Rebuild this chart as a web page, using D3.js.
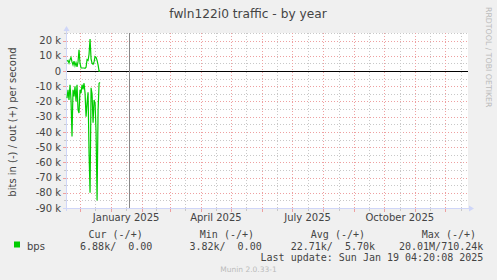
<!DOCTYPE html>
<html>
<head>
<meta charset="utf-8">
<script src="https://cdn.jsdelivr.net/npm/d3@7"></script>
<style>
  body { margin: 0; background: #f0f0f0; }
  svg { display: block; }
  text { font-family: "DejaVu Sans", sans-serif; fill: #444; }
  .mono { font-family: "DejaVu Sans Mono", monospace; white-space: pre; }
</style>
</head>
<body>
<div id="chart"></div>
<script>
// one sample per day, starting at the left edge of the graph
const firstDay = "2024-11-18T12:00:00Z"
const lastDay = "2025-12-23T12:00:00Z"
const lastUpdate = "2025-01-19T04:20:08Z"

// bits per second, out (+)
const outBits = [6500, 7000, 5200, 7500, 9000, 6000, 4000, 6500, 3500, 5500, 2800, 6000, 14000, 5000, 2000, 2000, 2000,
    2000, 1800, 2500, 7500, 7000, 11000, 21000, 8000, 5000, 4500, 6000, 9500, 9000, 7000, 4000, 0, 0]
// bits per second, in (-), drawn below zero
const inBits = [17800, 12300, 19000, 9000, 19000, 43000, 12300, 16700, 10000, 20000, 9000, 25500, 27600, 12300, 14500, 9000,
    12000, 8000, 14500, 30000, 21000, 14000, 54000, 80000, 11000, 15000, 34000, 19000, 21000, 40000, 85000, 26000, 8000, 7500]

const yTicks = [20000, 10000, 0, -10000, -20000, -30000, -40000, -50000, -60000, -70000, -80000, -90000]
const xTickMonths = ["2025-01-01", "2025-04-01", "2025-07-01", "2025-10-01"]
const xTickLabels = ["January 2025", "April 2025", "July 2025", "October 2025"]

const legendHeaders = ["Cur (-/+)", "Min (-/+)", "Avg (-/+)", "Max (-/+)"]
const legendValues = ["6.88k/  0.00", "3.82k/  0.00", "22.71k/  5.70k", "20.01M/710.24k"]
const headerEnds = [142.7, 254, 365, 476]
const valueEnds = [152.3, 261.7, 375, 483.3]

const gridGrey = "#c8c8c8"
const gridRed = "#eea0a0"
const axisColor = "#cfd6f8"
const green = "#00cc00"

let svg = d3.select("#chart").append("svg").attr("width", 497).attr("height", 280)
svg.append("rect").attr("width", 497).attr("height", 280).attr("fill", "#f0f0f0")

let x = d3.scaleUtc().domain([new Date(firstDay), new Date(lastDay)]).range([67, 468])
let y = d3.scaleLinear().domain([-90000, 25000]).range([208, 33])

// canvas
svg.append("rect").attr("x", 67).attr("y", 33).attr("width", 401).attr("height", 175).attr("fill", "white")

let grid = svg.append("g").attr("stroke-dasharray", "1,2").attr("stroke-width", 1)

// horizontal grid, minor every 5k, major every 10k
d3.range(-85000, 25001, 5000).forEach(v => {
    let yy = Math.round(y(v)) + 0.5
    grid.append("line").attr("x1", 67).attr("x2", 468).attr("y1", yy).attr("y2", yy)
        .attr("stroke", v % 10000 === 0 ? gridRed : gridGrey)
    svg.append("line").attr("x1", v % 10000 === 0 ? 63 : 64).attr("x2", 67).attr("y1", yy).attr("y2", yy)
        .attr("stroke", v % 10000 === 0 ? gridRed : gridGrey)
})

// vertical grid: month starts (red) and mid months (grey)
let months = d3.utcMonth.range(d3.utcMonth.floor(x.domain()[0]), x.domain()[1])
months.forEach(m => {
    let next = d3.utcMonth.offset(m, 1)
    let mid = new Date((+m + +next) / 2)
    let marks = [[m, gridRed], [mid, gridGrey]]
    marks.forEach(([t, c]) => {
        if (t < x.domain()[0] || t > x.domain()[1]) return
        let xx = Math.round(x(t)) + 0.5
        grid.append("line").attr("x1", xx).attr("x2", xx).attr("y1", 33).attr("y2", 208).attr("stroke", c)
        svg.append("line").attr("x1", xx).attr("x2", xx).attr("y1", 208).attr("y2", c === gridRed ? 212 : 211).attr("stroke", c)
    })
})

// axes with arrows
svg.append("line").attr("x1", 66.5).attr("x2", 66.5).attr("y1", 211).attr("y2", 29).attr("stroke", axisColor)
svg.append("path").attr("d", "M63.5,31 L69.5,31 L66.5,26 Z").attr("fill", axisColor)
svg.append("line").attr("x1", 63).attr("x2", 470).attr("y1", 208.5).attr("y2", 208.5).attr("stroke", axisColor)
svg.append("path").attr("d", "M469,205.5 L469,211.5 L474,208.5 Z").attr("fill", axisColor)

// zero line
let y0 = Math.round(y(0)) + 0.5
svg.append("line").attr("x1", 67).attr("x2", 468).attr("y1", y0).attr("y2", y0).attr("stroke", "black")

// last update marker
let xu = Math.round(x(new Date(lastUpdate))) + 0.5
svg.append("line").attr("x1", xu).attr("x2", xu).attr("y1", 33).attr("y2", 208).attr("stroke", "#888")

// data
let start = new Date(firstDay)
let dayOf = i => d3.utcDay.offset(start, i)
let outLine = d3.line().x((d, i) => x(dayOf(i))).y(d => y(d))
let inLine = d3.line().x((d, i) => x(dayOf(i))).y(d => y(-d))
svg.append("path").datum(inBits).attr("d", inLine).attr("fill", "none").attr("stroke", green).attr("stroke-width", 1.2)
svg.append("path").datum(outBits).attr("d", outLine).attr("fill", "none").attr("stroke", green).attr("stroke-width", 1.2)

// y labels
svg.selectAll(".ylab").data(yTicks).enter().append("text")
    .attr("class", "ylab")
    .attr("x", 61).attr("y", d => y(d)).attr("dy", "0.36em")
    .attr("text-anchor", "end").attr("font-size", 10)
    .text(d => d === 0 ? "0" : (d / 1000) + " k")

// x labels, centred in their month
svg.selectAll(".xlab").data(xTickMonths).enter().append("text")
    .attr("class", "xlab")
    .attr("x", d => {
        let m = new Date(d + "T00:00:00Z")
        return (x(m) + x(d3.utcMonth.offset(m, 1))) / 2
    })
    .attr("y", 220.5).attr("text-anchor", "middle").attr("font-size", 10)
    .text((d, i) => xTickLabels[i])

// titles
svg.append("text").attr("x", 248).attr("y", 17.5).attr("text-anchor", "middle").attr("font-size", 12.2)
    .text("fwln122i0 traffic - by year")
svg.append("text").attr("transform", "translate(16,122) rotate(-90)").attr("text-anchor", "middle").attr("font-size", 10)
    .text("bits in (-) / out (+) per second")
svg.append("text").attr("transform", "translate(485.5,7) rotate(90)").attr("font-size", 7.8).style("fill", "#bbb")
    .text("RRDTOOL / TOBI OETIKER")

// legend
svg.append("rect").attr("x", 14).attr("y", 241.5).attr("width", 6).attr("height", 6).attr("fill", green)
svg.append("text").attr("x", 27).attr("y", 249.5).attr("font-size", 10).text("bps")
svg.selectAll(".lhead").data(legendHeaders).enter().append("text")
    .attr("class", "mono lhead").attr("x", (d, i) => headerEnds[i]).attr("y", 237.5)
    .attr("text-anchor", "end").attr("font-size", 10).text(d => d)
svg.selectAll(".lval").data(legendValues).enter().append("text")
    .attr("class", "mono lval").attr("x", (d, i) => valueEnds[i]).attr("y", 249.5)
    .attr("text-anchor", "end").attr("font-size", 10).text(d => d)
svg.append("text").attr("class", "mono").attr("x", 483.3).attr("y", 261).attr("text-anchor", "end").attr("font-size", 10)
    .text("Last update: Sun Jan 19 04:20:08 2025")
svg.append("text").attr("x", 248.5).attr("y", 272).attr("text-anchor", "middle").attr("font-size", 7.5).style("fill", "#bbb")
    .text("Munin 2.0.33-1")
</script>
</body>
</html>
